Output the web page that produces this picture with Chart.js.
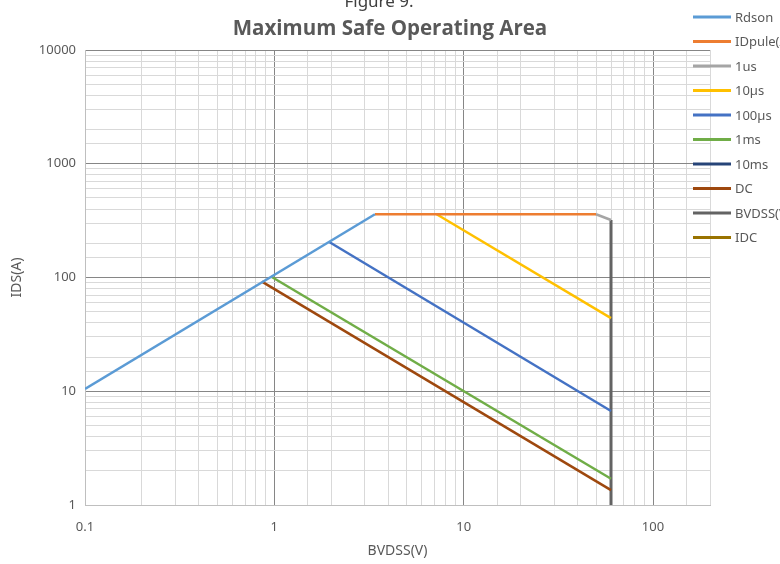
<!DOCTYPE html>
<html>
<head>
<meta charset="utf-8">
<script src="https://cdn.jsdelivr.net/npm/chart.js@4.4.1/dist/chart.umd.min.js"></script>
<style>
  html, body { margin: 0; padding: 0; background: #fff; overflow: hidden; }
  #wrap { width: 780px; height: 564px; position: relative; }
</style>
</head>
<body>
<div id="wrap"><canvas id="soa" width="780" height="564"></canvas></div>
<script>
// values (V, A)
const seriesNames = ['Rdson', 'IDpule(A)', '1us', '10\u00b5s', '100\u00b5s', '1ms', '10ms', 'DC', 'BVDSS(V)', 'IDC'];
const seriesColors = ['#5b9bd5', '#ed7d31', '#a5a5a5', '#ffc000', '#4472c4', '#70ad47', '#264478', '#9e480e', '#636363', '#997300'];

const rdsonV = [0.1, 3.4];
const rdsonI = [10.5, 360];
const idPulseV = [3.4, 50];
const idPulseI = [360, 360];
const us1V = [50, 60];
const us1I = [360, 320];
const us10V = [7.2, 60];
const us10I = [360, 44];
const us100V = [1.95, 60];
const us100I = [205, 6.7];
const ms1V = [0.96, 60];
const ms1I = [102, 1.7];
const ms10V = [];
const ms10I = [];
const dcV = [0.86, 60];
const dcI = [92, 1.35];
const bvdssV = [60, 60];
const bvdssI = [320, 1];
const idcV = [];
const idcI = [];

const xTickLabels = ['0.1', '1', '10', '100'];
const yTickLabels = ['1', '10', '100', '1000', '10000'];

const allV = [rdsonV, idPulseV, us1V, us10V, us100V, ms1V, ms10V, dcV, bvdssV, idcV];
const allI = [rdsonI, idPulseI, us1I, us10I, us100I, ms1I, ms10I, dcI, bvdssI, idcI];

const toPoints = (xs, ys) => xs.map((x, i) => ({ x, y: ys[i] }));

const datasets = seriesNames.map((name, idx) => ({
  label: name,
  data: toPoints(allV[idx], allI[idx]),
  borderColor: seriesColors[idx],
  backgroundColor: seriesColors[idx],
  borderWidth: name.startsWith('BVDSS') ? 3 : 2.5,
  pointRadius: 0,
  tension: 0,
  fill: false,
}));

const isDecade = (v) => Math.abs(Math.log10(v) - Math.round(Math.log10(v))) < 1e-9;
const fmt = (v) => String(Number(v.toPrecision(6)));

const gridColor = (min) => (ctx) => {
  const v = ctx.tick && ctx.tick.value;
  if (v === undefined) return '#d9d9d9';
  if (isDecade(v) && Math.abs(v - min) > 1e-9) return '#868686';
  return '#d9d9d9';
};

// legend drawn over the plot, as in the original sheet
const sideLegend = {
  id: 'sideLegend',
  afterDraw(chart) {
    const { ctx } = chart;
    ctx.save();
    ctx.font = '13px "Noto Sans", sans-serif';
    ctx.textBaseline = 'middle';
    ctx.textAlign = 'left';
    chart.data.datasets.forEach((ds, i) => {
      const y = 17 + i * 24.5;
      ctx.strokeStyle = ds.borderColor;
      ctx.lineWidth = 3;
      ctx.beginPath();
      ctx.moveTo(693, y);
      ctx.lineTo(731, y);
      ctx.stroke();
      ctx.fillStyle = '#595959';
      ctx.fillText(ds.label, 735, y + 1);
    });
    // caption above the chart, cut off by the page edge
    ctx.font = '17px "Noto Sans", sans-serif';
    ctx.fillStyle = '#404040';
    ctx.textAlign = 'center';
    ctx.textBaseline = 'alphabetic';
    ctx.fillText('Figure 9.', 379, 7);
    ctx.restore();
  },
};

new Chart(document.getElementById('soa'), {
  type: 'line',
  data: { datasets },
  plugins: [sideLegend],
  options: {
    responsive: false,
    animation: false,
    layout: { padding: 0 },
    plugins: {
      legend: { display: false },
      tooltip: { enabled: false },
      title: {
        display: true,
        text: 'Maximum Safe Operating Area',
        color: '#595959',
        font: { family: '"Open Sans", sans-serif', size: 20.5, weight: 'bold' },
        padding: { top: 17, bottom: 8.4 },
      },
    },
    scales: {
      x: {
        type: 'logarithmic',
        min: 0.1,
        max: 200,
        afterFit: (scale) => { scale.height = 59; },
        border: { color: '#bfbfbf' },
        grid: { color: gridColor(0.1), drawTicks: false },
        ticks: {
          autoSkip: false,
          maxRotation: 0,
          padding: 14,
          color: '#595959',
          font: { family: '"Noto Sans", sans-serif', size: 13 },
          callback: (v) => (xTickLabels.includes(fmt(v)) && isDecade(v) ? fmt(v) : ''),
        },
        title: {
          display: true,
          text: 'BVDSS(V)',
          color: '#595959',
          font: { family: '"Noto Sans", sans-serif', size: 14 },
          padding: { top: 0, bottom: 5 },
        },
      },
      y: {
        type: 'logarithmic',
        min: 1,
        max: 10000,
        afterFit: (scale) => { scale.width = 85; },
        border: { color: '#bfbfbf' },
        grid: { color: gridColor(1), drawTicks: false },
        ticks: {
          autoSkip: false,
          padding: 9,
          color: '#595959',
          font: { family: '"Noto Sans", sans-serif', size: 13 },
          callback: (v) => (yTickLabels.includes(fmt(v)) && isDecade(v) ? fmt(v) : ''),
        },
        title: {
          display: true,
          text: 'IDS(A)',
          color: '#595959',
          font: { family: '"Noto Sans", sans-serif', size: 14 },
          padding: { top: 9, bottom: 0 },
        },
      },
      // empty strip on the right, where the legend sits
      yRight: {
        type: 'linear',
        position: 'right',
        display: true,
        afterFit: (scale) => { scale.width = 70; },
        grid: { display: false, drawTicks: false },
        border: { display: false },
        ticks: { display: false },
      },
    },
  },
});
</script>
</body>
</html>
